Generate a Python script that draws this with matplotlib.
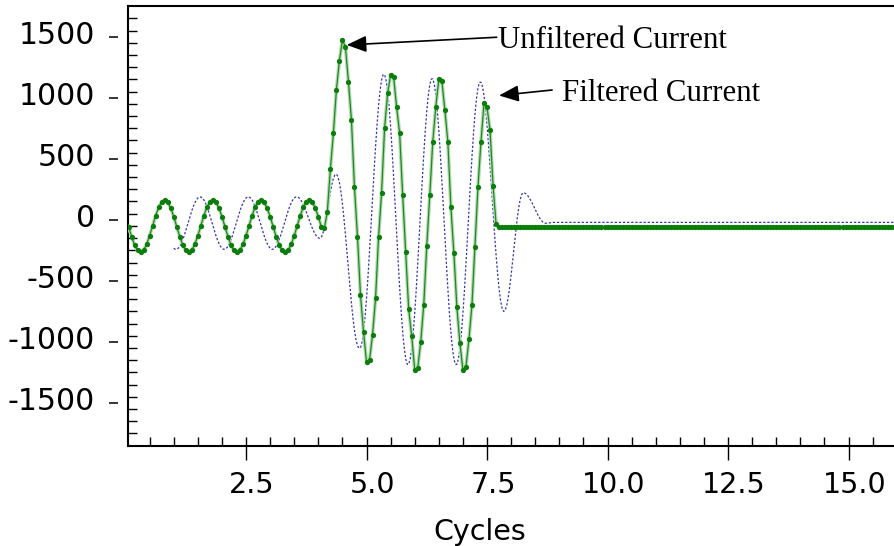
import numpy as np
import matplotlib
matplotlib.use("Agg")
import matplotlib.pyplot as plt
from matplotlib.ticker import FixedLocator, MultipleLocator
from matplotlib.transforms import ScaledTranslation

# ---------------- data ----------------
green_samples_per_cycle = 16   # unfiltered current: one sample every 1/16 cycle, starting at 1/16
blue_samples_per_cycle = 32    # filtered current: one value every 1/32 cycle, starting at cycle 1.0

unfiltered_current = [
    -55, -137, -206, -251, -266, -248, -201, -131, -49, 33, 102, 147, 162, 144, 97, 27,
    -55, -137, -206, -251, -266, -248, -201, -131, -49, 33, 102, 147, 162, 144, 97, 27,
    -55, -137, -206, -251, -266, -248, -201, -131, -49, 33, 102, 147, 162, 144, 97, 27,
    -55, -137, -206, -251, -266, -248, -201, -131, -49, 33, 102, 147, 162, 144, 97, 27,
    -58, -68, 66, 413, 708, 1063, 1303, 1470, 1418, 1131, 817, 266, -138, -616, -916, -1165,
    -1150, -940, -643, -143, 222, 749, 1036, 1186, 1167, 921, 708, 203, -266, -733, -952, -1230,
    -1213, -1000, -698, -215, 203, 640, 926, 1150, 1140, 899, 640, 107, -274, -716, -1011, -1230,
    -1205, -980, -698, -220, 271, 640, 954, 921, 735, 280, -34, -62, -62, -62, -62, -62,
    -62, -62, -62, -62, -62, -62, -62, -62, -62, -62, -62, -62, -62, -62, -62, -62,
    -62, -62, -62, -62, -62, -62, -62, -62, -62, -62, -62, -62, -62, -62, -62, -62,
    -62, -62, -62, -62, -62, -62, -62, -62, -62, -62, -62, -62, -62, -62, -62, -62,
    -62, -62, -62, -62, -62, -62, -62, -62, -62, -62, -62, -62, -62, -62, -62, -62,
    -62, -62, -62, -62, -62, -62, -62, -62, -62, -62, -62, -62, -62, -62, -62, -62,
    -62, -62, -62, -62, -62, -62, -62, -62, -62, -62, -62, -62, -62, -62, -62, -62,
    -62, -62, -62, -62, -62, -62, -62, -62, -62, -62, -62, -62, -62, -62, -62, -62,
    -62, -62, -62, -62, -62, -62, -62, -62, -62, -62, -62, -62, -62, -62, -62, -62,
]

filtered_current = [
    # cycle 1
    -233, -241, -241, -233, -217, -194, -164, -129, -90, -49, -7, 35, 74, 109, 139, 162,
    179, 187, 187, 179, 163, 140, 110, 75, 36, -5, -47, -89, -128, -163, -193, -216,
    # cycle 2
    -233, -241, -241, -233, -217, -194, -164, -129, -90, -49, -7, 35, 74, 109, 139, 162,
    179, 187, 187, 179, 163, 140, 110, 75, 36, -5, -47, -89, -128, -163, -193, -216,
    # cycle 3
    -233, -241, -241, -233, -217, -194, -164, -129, -90, -49, -7, 35, 74, 109, 139, 162,
    179, 187, 188, 182, 169, 150, 126, 97, 65, 31, -3, -37, -68, -96, -119, -137,
    # cycle 4
    -148, -152, -143, -113, -63, 1, 75, 152, 225, 289, 338, 367, 374, 355, 306, 231,
    132, 13, -120, -263, -408, -551, -685, -804, -905, -981, -1030, -1051, -1048, -1005, -922, -799,
    # cycle 5
    -646, -462, -259, -44, 177, 393, 597, 780, 937, 1059, 1145, 1188, 1189, 1144, 1056, 926,
    763, 568, 353, 124, -110, -339, -555, -749, -916, -1046, -1137, -1183, -1184, -1140, -1053, -925,
    # cycle 6
    -764, -573, -360, -135, 95, 322, 534, 726, 890, 1018, 1107, 1153, 1154, 1110, 1023, 895,
    734, 543, 330, 105, -125, -352, -564, -756, -920, -1048, -1137, -1183, -1184, -1140, -1054, -928,
    # cycle 7
    -769, -580, -370, -147, 80, 304, 514, 703, 865, 992, 1080, 1125, 1126, 1090, 1017, 912,
    776, 618, 443, 257, 69, -115, -286, -438, -565, -662, -725, -750, -743, -705, -641, -555,
    # cycle 8 (to 8.875)
    -452, -337, -217, -101, 6, 96, 165, 207, 222, 219, 211, 198, 181, 160, 136, 110,
    84, 58, 34, 13, -5, -18, -26, -29, -28, -26, -24, -22, -21,
    # flat to the end of the record (cycle 16)
    -21,
]
filtered_end_cycle = 16.0

x_ticks = [2.5, 5.0, 7.5, 10.0, 12.5, 15.0]
x_tick_labels = ["2.5", "5.0", "7.5", "10.0", "12.5", "15.0"]
y_ticks = [-1500, -1000, -500, 0, 500, 1000, 1500]
y_tick_labels = ["-1500", "-1000", "-500", "0", "500", "1000", "1500"]
y_minor_ticks = [-1750, -1650, -1550, -1450, -1350, -1250, -1150, -1050, -950, -850,
                 -750, -650, -550, -450, -350, -250, -150, -50, 50, 150, 250, 350,
                 450, 550, 650, 750, 850, 950, 1050, 1150, 1250, 1350, 1450, 1550, 1650]
x_label = "Cycles"
label_unfiltered = "Unfiltered Current"
label_filtered = "Filtered Current"

# ---------------- figure ----------------
green_cycles = np.arange(1, len(unfiltered_current) + 1) / green_samples_per_cycle
blue_cycles = np.append(
    np.arange(blue_samples_per_cycle, blue_samples_per_cycle + len(filtered_current) - 1)
    / blue_samples_per_cycle,
    filtered_end_cycle,
)

W, H, DPI = 895, 546, 100
fig = plt.figure(figsize=(W / DPI, H / DPI), dpi=DPI)
fig.patch.set_facecolor("white")
ax_left, ax_bottom, ax_top = 128.3, 445.7, 6.0
ax = fig.add_axes([ax_left / W, (H - ax_bottom) / H, 1 - ax_left / W, (ax_bottom - ax_top) / H])

ax.plot(blue_cycles, filtered_current, color="#3535b0", lw=0.9, ls=(0, (1.8, 1.5)), zorder=2)
ax.plot(green_cycles, unfiltered_current, color="#b4dab4", lw=2.6, zorder=3)
ax.plot(green_cycles, unfiltered_current, color="#208a20", lw=0.9, marker="o", ms=3.8,
        mfc="#0a7d0a", mec="#0a7d0a", mew=0, zorder=4)

ax.set_xlim(0.058, 15.964)
ax.set_ylim(-1850, 1751)

for side in ("left", "bottom", "top"):
    ax.spines[side].set_linewidth(1.5)
ax.spines["right"].set_visible(False)

# x axis
ax.set_xticks(x_ticks, x_tick_labels)
ax.xaxis.set_minor_locator(MultipleLocator(0.5))
ax.xaxis.remove_overlapping_locs = False
ax.tick_params(axis="x", which="major", direction="out", length=10, width=1.0,
               labelsize=20.5, pad=8.5, top=False)
ax.tick_params(axis="x", which="minor", direction="in", length=6.5, width=1.0, top=False)
off_x = ScaledTranslation(6 / DPI, 0, fig.dpi_scale_trans)
for lab in ax.get_xticklabels():
    lab.set_transform(lab.get_transform() + off_x)

ax.set_xlabel(x_label, fontsize=20.5)
ax.xaxis.set_label_coords((480 - ax_left) / (W - ax_left), -(518 - ax_bottom) / (ax_bottom - ax_top))

# y axis: inward minor ticks on the frame, detached major dashes with labels
ax.set_yticks(y_ticks)
ax.tick_params(axis="y", which="major", length=0, labelleft=False, right=False)
ax.yaxis.set_minor_locator(FixedLocator(y_minor_ticks))
ax.tick_params(axis="y", which="minor", direction="in", length=6.5, width=1.0, right=False)

sec = ax.secondary_yaxis(-10 / (W - ax_left))
sec.set_yticks(y_ticks, y_tick_labels)
sec.spines["left"].set_visible(False)
sec.tick_params(axis="y", which="major", direction="out", length=6.5, width=1.1,
                labelsize=21.5, pad=10.5)
off_y = ScaledTranslation(0, 4 / DPI, fig.dpi_scale_trans)
for lab in sec.get_yticklabels():
    lab.set_transform(lab.get_transform() + off_y)

# annotations
serif = ["Liberation Serif", "DejaVu Serif"]
ax.text(7.735, 1405, label_unfiltered, family=serif, fontsize=22.2, ha="left", va="baseline")
ax.text(9.05, 975, label_filtered, family=serif, fontsize=22.2, ha="left", va="baseline")
arrow = dict(arrowstyle="-|>,head_length=0.6,head_width=0.25", mutation_scale=20,
             lw=1.2, color="black", shrinkA=0, shrinkB=0)
ax.annotate("", xy=(4.589, 1432), xytext=(7.70, 1495), arrowprops=arrow)
ax.annotate("", xy=(7.749, 1018), xytext=(8.85, 1063), arrowprops=arrow)

fig.savefig("out.png", dpi=DPI, facecolor="white")
